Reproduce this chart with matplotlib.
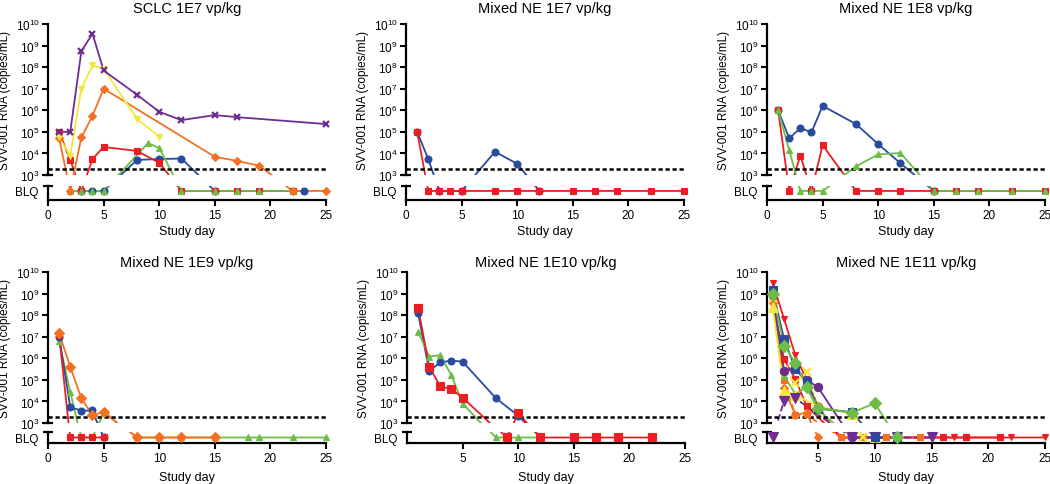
#!/usr/bin/env python3
"""
Plasma SVV-001 RNA by study day, one panel per cohort (broken log axis with BLQ band).
"""
import matplotlib.pyplot as plt
from matplotlib.ticker import NullLocator

plt.rcParams['font.family'] = ['Liberation Sans', 'DejaVu Sans']
plt.rcParams['mathtext.fontset'] = 'custom'
plt.rcParams['mathtext.rm'] = 'Liberation Sans'
plt.rcParams['mathtext.it'] = 'Liberation Sans'

BLQ = 0              # below limit of quantification
BLQ_Y = 10 ** 2.26   # where BLQ points sit on the shared log scale
LLOQ = 2e3

PURPLE = '#6e2d91'
YELLOW = '#f2e83a'
ORANGE = '#f57023'
RED = '#eb1e23'
GREEN = '#6ebe46'
BLUE = '#284ba0'

# ---- SCLC 1E7 vp/kg
sclc7_purple_days = [1, 2, 3, 4, 5, 8, 10, 12, 15, 17, 25]
sclc7_purple_vals = [1e5, 1e5, 5.4e8, 3.6e9, 7e7, 5.3e6, 8.5e5, 3.5e5, 6e5, 4.8e5, 2.3e5]
sclc7_yellow_days = [1, 2, 3, 4, 5, 8, 10]
sclc7_yellow_vals = [5.5e4, 8e3, 1e7, 1.2e8, 8.5e7, 4e5, 6e4]
sclc7_orange_days = [1, 2, 3, 4, 5, 15, 17, 19, 22, 25]
sclc7_orange_vals = [5e4, BLQ, 5.5e4, 5.5e5, 1e7, 7e3, 4.5e3, 2.7e3, BLQ, BLQ]
sclc7_red_days = [1, 2, 3, 4, 5, 8, 10, 12, 15, 17, 19, 22]
sclc7_red_vals = [1e5, 5e3, BLQ, 5.5e3, 2e4, 1.3e4, 3.7e3, BLQ, BLQ, BLQ, BLQ, BLQ]
sclc7_green_days = [2, 3, 4, 5, 9, 10, 12, 15, 17, 19, 22]
sclc7_green_vals = [BLQ, BLQ, BLQ, BLQ, 3e4, 1.8e4, BLQ, BLQ, BLQ, BLQ, BLQ]
sclc7_blue_days = [3, 4, 5, 8, 10, 12, 15, 23]
sclc7_blue_vals = [BLQ, BLQ, BLQ, 5e3, 5.5e3, 5.8e3, BLQ, BLQ]

# ---- Mixed NE 1E7 vp/kg
ne7_red_days = [1, 2, 3, 4, 5, 8, 10, 12, 15, 17, 19, 22, 25]
ne7_red_vals = [1e5, BLQ, BLQ, BLQ, BLQ, BLQ, BLQ, BLQ, BLQ, BLQ, BLQ, BLQ, BLQ]
ne7_blue_days = [1, 2, 3, 5, 8, 10, 12]
ne7_blue_vals = [1e5, 5.5e3, BLQ, BLQ, 1.2e4, 3.3e3, BLQ]

# ---- Mixed NE 1E8 vp/kg
ne8_blue_days = [1, 2, 3, 4, 5, 8, 10, 12, 15]
ne8_blue_vals = [1e6, 5e4, 1.5e5, 9.5e4, 1.6e6, 2.3e5, 2.7e4, 3.5e3, BLQ]
ne8_green_days = [1, 2, 3, 4, 5, 8, 10, 12, 15, 17, 19, 22, 25]
ne8_green_vals = [1e6, 1.4e4, BLQ, BLQ, BLQ, 2.5e3, 9e3, 1.05e4, BLQ, BLQ, BLQ, BLQ, BLQ]
ne8_red_days = [1, 2, 3, 4, 5, 8, 10, 12, 15, 17, 19, 22, 25]
ne8_red_vals = [1e6, BLQ, 8e3, BLQ, 2.4e4, BLQ, BLQ, BLQ, BLQ, BLQ, BLQ, BLQ, BLQ]

# ---- Mixed NE 1E9 vp/kg
ne9_green_days = [1, 2, 3, 4, 5, 8, 10, 12, 15, 18, 19, 22, 25]
ne9_green_vals = [6e6, 2.8e4, BLQ, BLQ, 3.3e3, BLQ, BLQ, BLQ, BLQ, BLQ, BLQ, BLQ, BLQ]
ne9_blue_days = [1, 2, 3, 4, 5]
ne9_blue_vals = [1e7, 5.5e3, 3.7e3, 3.8e3, BLQ]
ne9_red_days = [1, 2, 3, 4, 5]
ne9_red_vals = [1.2e7, BLQ, BLQ, BLQ, BLQ]
ne9_orange_days = [1, 2, 3, 4, 5, 8, 10, 12, 15]
ne9_orange_vals = [1.5e7, 4e5, 1.4e4, 2.3e3, 3.3e3, BLQ, BLQ, BLQ, BLQ]

# ---- Mixed NE 1E10 vp/kg
ne10_blue_days = [1, 2, 3, 4, 5, 8, 10, 12]
ne10_blue_vals = [1.2e8, 2.6e5, 6.5e5, 7.8e5, 7e5, 1.4e4, 2.2e3, BLQ]
ne10_green_days = [1, 2, 3, 4, 5, 8, 10, 12]
ne10_green_vals = [1.7e7, 1.2e6, 1.4e6, 1.6e5, 8e3, BLQ, BLQ, BLQ]
ne10_red_days = [1, 2, 3, 4, 5, 9, 10, 12, 15, 17, 19, 22]
ne10_red_vals = [2.2e8, 4e5, 5e4, 3.7e4, 1.5e4, BLQ, 3e3, BLQ, BLQ, BLQ, BLQ, BLQ]

# ---- Mixed NE 1E11 vp/kg
ne11_redtri_days = [1, 2, 3, 4, 5, 7, 15, 17, 22, 25]
ne11_redtri_vals = [3.2e9, 6.8e7, 1.35e6, 1e5, 6e3, BLQ, BLQ, BLQ, BLQ, BLQ]
ne11_redsq_days = [1, 2, 3, 4, 7, 16, 18, 21]
ne11_redsq_vals = [5e8, 9e5, 1.1e5, 6e3, BLQ, BLQ, BLQ, BLQ]
ne11_orangesq_days = [1, 2, 3, 4, 7, 9, 11, 14]
ne11_orangesq_vals = [4.5e8, 1e5, 2.3e3, 2.5e3, BLQ, BLQ, BLQ, BLQ]
ne11_orangedia_days = [1, 2, 3, 4, 5]
ne11_orangedia_vals = [3.5e8, 4e4, 2.4e3, 3e3, BLQ]
ne11_greentri_days = [1, 2, 3, 4, 5, 8]
ne11_greentri_vals = [7e8, 1.5e5, 2.2e4, 4.5e4, 4e3, BLQ]
ne11_yellowx_days = [1, 2, 3, 4, 5, 8, 9]
ne11_yellowx_vals = [6e8, 3e5, 7e4, 2.2e5, 5e3, 3e3, BLQ]
ne11_yellowtri_days = [1, 2, 3, 5, 8, 10]
ne11_yellowtri_vals = [2.3e8, 3.2e4, 2e4, 6e3, 2.7e3, BLQ]
ne11_purpletri_days = [1, 2, 3, 8, 10, 12, 15]
ne11_purpletri_vals = [BLQ, 1.1e4, 1.4e4, BLQ, BLQ, BLQ, BLQ]
ne11_purplecirc_days = [1, 2, 3, 4, 5, 8, 10, 12]
ne11_purplecirc_vals = [9e8, 2.7e5, 3.5e5, 1e5, 4.5e4, BLQ, BLQ, BLQ]
ne11_bluesq_days = [1, 2, 3, 4, 5, 8, 10, 12]
ne11_bluesq_vals = [1.4e9, 8e6, 3.2e5, 8e4, 4.6e3, 3.2e3, BLQ, BLQ]
ne11_greendia_days = [1, 2, 3, 4, 5, 8, 10, 12]
ne11_greendia_vals = [1e9, 3.9e6, 6.2e5, 4.6e4, 5e3, 3e3, 8.3e3, BLQ]

# style: (color, marker, linestyle, markersize)
panels = [
    ('SCLC 1E7 vp/kg', 0, 48, 0, [
        (sclc7_blue_days, sclc7_blue_vals, (BLUE, 'o', '-', 5)),
        (sclc7_red_days, sclc7_red_vals, (RED, 's', '-', 5)),
        (sclc7_green_days, sclc7_green_vals, (GREEN, '^', '-', 5)),
        (sclc7_orange_days, sclc7_orange_vals, (ORANGE, 'D', '-', 4.5)),
        (sclc7_yellow_days, sclc7_yellow_vals, (YELLOW, 'v', '-', 5)),
        (sclc7_purple_days, sclc7_purple_vals, (PURPLE, 'x', '-', 5)),
    ]),
    ('Mixed NE 1E7 vp/kg', 0, 406, 0, [
        (ne7_blue_days, ne7_blue_vals, (BLUE, 'o', '-', 5)),
        (ne7_red_days, ne7_red_vals, (RED, 's', '-', 5)),
    ]),
    ('Mixed NE 1E8 vp/kg', 0, 767, 0, [
        (ne8_blue_days, ne8_blue_vals, (BLUE, 'o', '-', 5)),
        (ne8_red_days, ne8_red_vals, (RED, 's', '-', 5)),
        (ne8_green_days, ne8_green_vals, (GREEN, '^', '-', 5)),
    ]),
    ('Mixed NE 1E9 vp/kg', 1, 48, 0, [
        (ne9_green_days, ne9_green_vals, (GREEN, '^', '-', 5)),
        (ne9_blue_days, ne9_blue_vals, (BLUE, 'o', '-', 5)),
        (ne9_red_days, ne9_red_vals, (RED, 's', '-', 5)),
        (ne9_orange_days, ne9_orange_vals, (ORANGE, 'D', '-', 5)),
    ]),
    ('Mixed NE 1E10 vp/kg', 1, 407, 0, [
        (ne10_blue_days, ne10_blue_vals, (BLUE, 'o', '-', 5)),
        (ne10_green_days, ne10_green_vals, (GREEN, '^', '-', 5)),
        (ne10_red_days, ne10_red_vals, (RED, 's', '-', 5.5)),
    ]),
    ('Mixed NE 1E11 vp/kg', 1, 767, 0.5, [
        (ne11_redsq_days, ne11_redsq_vals, (RED, 's', '-', 5)),
        (ne11_redtri_days, ne11_redtri_vals, (RED, 'v', '-', 4.5)),
        (ne11_orangesq_days, ne11_orangesq_vals, (ORANGE, 's', '--', 5)),
        (ne11_orangedia_days, ne11_orangedia_vals, (ORANGE, 'D', '-', 4.5)),
        (ne11_greentri_days, ne11_greentri_vals, (GREEN, '^', '-', 4.5)),
        (ne11_yellowx_days, ne11_yellowx_vals, (YELLOW, 'x', ':', 6)),
        (ne11_yellowtri_days, ne11_yellowtri_vals, (YELLOW, '^', '-', 6.5)),
        (ne11_purpletri_days, ne11_purpletri_vals, (PURPLE, 'v', '--', 6.5)),
        (ne11_purplecirc_days, ne11_purplecirc_vals, (PURPLE, 'o', '-', 6)),
        (ne11_bluesq_days, ne11_bluesq_vals, (BLUE, 's', '-', 6)),
        (ne11_greendia_days, ne11_greendia_vals, (GREEN, 'D', '-', 6)),
    ]),
]

W, H = 1050, 485
# per row: upper top, upper bottom, lower top, lower bottom (px), lower ylim, title pad, xlabel pad
rows = [
    (25, 176, 187, 201, (10 ** 1.84, 10 ** 2.49), 9, 3),
    (273, 424, 433, 444, (10 ** 2.0, 10 ** 2.52), 4, 5),
]


def px_rect(left, top, width, bottom):
    return [left / W, 1 - bottom / H, width / W, (bottom - top) / H]


def to_y(vals):
    return [BLQ_Y if v == BLQ else v for v in vals]


fig = plt.figure(figsize=(W / 100, H / 100), dpi=100)

for title, row, left, xmin, series in panels:
    up_top, up_bot, lo_top, lo_bot, lo_ylim, title_pad, xlabel_pad = rows[row]
    ax_up = fig.add_axes(px_rect(left, up_top, 278, up_bot))
    ax_lo = fig.add_axes(px_rect(left, lo_top, 278, lo_bot))

    for ax in (ax_up, ax_lo):
        ax.set_yscale('log')
        ax.set_xlim(xmin, 25)
        for days, vals, (color, marker, ls, ms) in series:
            ax.plot(days, to_y(vals), color=color, lw=1.3, ls=ls, zorder=2)
        for s in ('top', 'right'):
            ax.spines[s].set_visible(False)
        ax.spines['left'].set_linewidth(1.6)
        ax.yaxis.set_minor_locator(NullLocator())

    # markers unclipped so edge points show in full
    for days, vals, (color, marker, ls, ms) in series:
        up_d = [d for d, v in zip(days, vals) if v != BLQ]
        up_v = [v for v in vals if v != BLQ]
        lo_d = [d for d, v in zip(days, vals) if v == BLQ]
        mew = 1.6 if marker == 'x' else 0.8
        if up_d:
            ax_up.plot(up_d, up_v, ls='none', marker=marker, ms=ms, color=color,
                       mew=mew, zorder=3, clip_on=False)
        if lo_d:
            ax_lo.plot(lo_d, [BLQ_Y] * len(lo_d), ls='none', marker=marker, ms=ms,
                       color=color, mew=mew, zorder=3, clip_on=False)

    ax_up.axhline(LLOQ, color='black', lw=1.8, ls=(0, (1.7, 1.1)), zorder=2.5)

    # upper log axis
    ax_up.set_ylim(1e3, 1e10)
    ax_up.spines['bottom'].set_visible(False)
    decades = list(range(3, 11))
    ax_up.set_yticks([10.0 ** k for k in decades])
    ax_up.set_yticklabels([r'$10^{%d}$' % k for k in decades])
    ax_up.tick_params(axis='y', direction='out', length=4, width=1.5, labelsize=8.5, pad=2)
    ax_up.tick_params(axis='x', bottom=False, labelbottom=False)
    ax_up.set_ylabel('SVV-001 RNA (copies/mL)', fontsize=8.5, labelpad=3)
    ax_up.set_title(title, fontsize=10.5, pad=title_pad)
    ax_up.plot([0], [0], marker='_', ms=7, mew=1.6, color='black',
               transform=ax_up.transAxes, clip_on=False)

    # BLQ band
    ax_lo.set_ylim(*lo_ylim)
    ax_lo.set_yticks([BLQ_Y])
    ax_lo.set_yticklabels(['BLQ'])
    ax_lo.tick_params(axis='y', length=0, labelsize=8.5, pad=7)
    ax_lo.spines['bottom'].set_linewidth(1.6)
    xticks = [0, 5, 10, 15, 20, 25] if row == 0 or left < 100 else [5, 10, 15, 20, 25]
    ax_lo.set_xticks(xticks)
    ax_lo.tick_params(axis='x', direction='out', length=4, width=1.5, labelsize=8.5, pad=2.5)
    ax_lo.set_xlabel('Study day', fontsize=9, labelpad=xlabel_pad)
    ax_lo.plot([0], [1], marker='_', ms=7, mew=1.6, color='black',
               transform=ax_lo.transAxes, clip_on=False)

fig.savefig('out.png', dpi=100)
